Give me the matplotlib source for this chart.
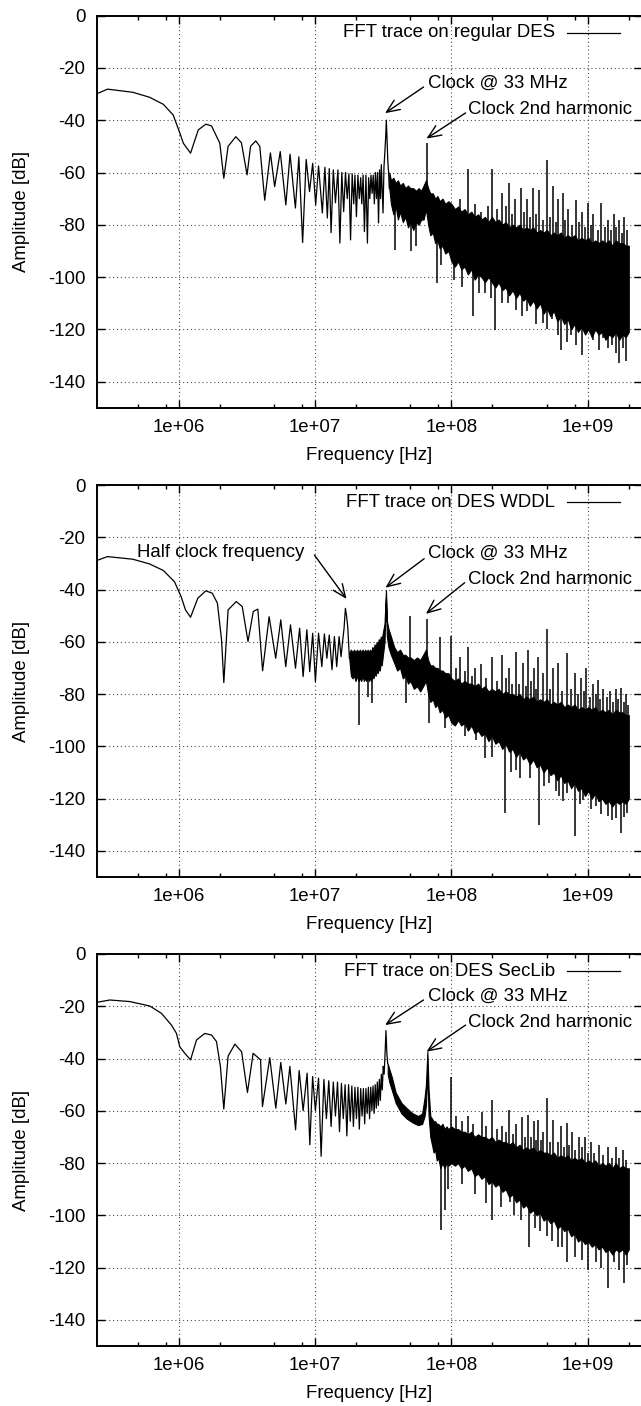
import numpy as np
import matplotlib
matplotlib.use("Agg")
import matplotlib.pyplot as plt
from matplotlib.ticker import FixedLocator, FixedFormatter, NullFormatter

plt.rcParams['font.family'] = ['Liberation Sans', 'DejaVu Sans']
plt.rcParams['font.size'] = 13.4

# x ticks / y ticks
xticks = [1e6, 1e7, 1e8, 1e9]
xtick_labels = ['1e+06', '1e+07', '1e+08', '1e+09']
yticks = [0, -20, -40, -60, -80, -100, -120, -140]
ytick_labels = ['0', '-20', '-40', '-60', '-80', '-100', '-120', '-140']

# ---------------- regular DES ----------------
# smooth part + sinc lobes: [MHz, dB]
des_lobes = [
    [0.25, -29.9], [0.30, -28.1], [0.46, -29.3], [0.61, -31.2], [0.77, -33.9],
    [0.91, -38.0], [1.02, -45.0], [1.08, -48.8], [1.22, -52.6], [1.39, -43.7],
    [1.58, -41.5], [1.74, -42.2], [2.00, -48.8], [2.14, -62.2], [2.30, -50.0],
    [2.62, -46.3], [2.88, -48.6], [3.17, -60.9], [3.36, -50.0], [3.67, -47.9],
    [3.93, -50.0], [4.27, -70.6], [4.70, -52.5], [5.05, -65.4], [5.55, -52.0],
    [6.10, -72.4], [6.55, -53.0], [7.17, -73.6], [7.60, -54.0], [8.10, -86.8],
    [8.60, -55.0], [9.10, -67.3], [9.60, -56.5], [10.1, -72.4], [10.6, -57.5],
    [11.3, -75.5], [11.8, -58.0], [12.3, -77.4], [12.7, -58.5], [13.1, -83.0],
    [13.6, -59.0], [14.1, -71.6], [14.7, -59.0], [15.2, -87.0], [15.7, -60.0],
    [16.2, -75.0], [16.7, -60.0], [17.2, -70.0], [17.7, -60.5], [18.2, -85.8],
    [18.7, -60.5], [19.2, -72.0], [19.6, -61.0], [20.1, -76.9], [20.6, -61.0],
    [21.1, -70.0], [21.6, -62.0], [22.0, -72.0], [22.5, -61.0], [23.0, -82.6],
    [23.6, -61.0], [24.2, -87.0], [24.7, -62.0], [25.2, -70.0], [25.7, -61.0],
    [26.2, -68.0], [26.7, -61.0], [27.2, -72.0], [27.7, -60.0], [28.2, -70.0],
    [28.7, -60.0], [29.2, -79.3], [29.7, -59.0], [30.2, -70.0], [30.6, -57.0],
    [31.5, -75.5], [32.0, -58.0], [32.5, -52.0], [32.9, -47.0], [33.3, -40.0],
    [33.7, -47.0], [34.1, -55.0], [34.6, -60.0], [35.0, -66.0],
]
# dense noisy part: [MHz, upper, lower]
des_band = [
    [35, -60, -66], [36, -63, -72], [37.5, -62, -76], [39, -64, -73], [40.5, -63, -78],
    [42, -65, -75], [44, -64, -79], [46, -66, -77], [48, -65, -81], [50, -66, -79],
    [52.5, -66, -82], [55, -67, -79], [57.5, -66, -80], [60, -67, -78], [62.5, -65, -78],
    [65, -63, -74], [67.5, -66, -80], [70, -68, -84], [73, -68, -83], [76, -70, -87],
    [79, -69, -86], [82, -71, -89], [86, -70, -88], [90, -72, -91], [95, -71, -90],
    [100, -72, -94], [106, -74, -96], [112, -73, -94], [118, -75, -97], [125, -74, -96],
    [132, -76, -99], [140, -75, -97], [148, -77, -101], [157, -76, -99], [166, -78, -100],
    [176, -77, -102], [187, -79, -100], [198, -77, -102], [210, -79, -104], [222, -78, -102],
    [236, -80, -105], [250, -79, -104], [265, -81, -107], [281, -80, -105], [298, -81, -108],
    [316, -80, -106], [335, -82, -109], [355, -81, -108], [376, -82, -111], [398, -81, -109],
    [422, -83, -112], [447, -82, -110], [474, -83, -114], [502, -82, -112], [532, -84, -115],
    [564, -83, -113], [598, -84, -117], [634, -83, -115], [672, -85, -118], [712, -84, -116],
    [755, -85, -120], [800, -84, -118], [848, -86, -121], [900, -85, -119], [955, -86, -122],
    [1010, -85, -120], [1070, -87, -123], [1135, -86, -120], [1200, -87, -122], [1275, -86, -121],
    [1350, -87, -124], [1430, -86, -122], [1515, -88, -123], [1605, -86, -121], [1700, -87, -124],
    [1800, -87, -122], [1900, -88, -123], [2000, -88, -121],
]
des_spikes_up = [
    [66.6, -48.7], [99.5, -73.0], [115, -70.0], [133, -58.7], [150, -72.0], [166, -75.0],
    [185, -73.0], [199, -58.7], [215, -74.0], [233, -68.0], [250, -73.0], [266, -64.1],
    [280, -76.0], [295, -70.0], [324, -66.0], [340, -75.0], [360, -70.0], [380, -77.0],
    [395, -66.0], [420, -76.0], [442, -66.7], [470, -78.0], [500, -55.2], [530, -77.0],
    [560, -65.1], [580, -79.0], [600, -70.0], [655, -67.9], [680, -78.0], [720, -74.0],
    [760, -80.0], [820, -70.5], [860, -79.0], [900, -75.0], [950, -81.0], [1000, -71.7],
    [1050, -80.0], [1100, -76.0], [1180, -82.0], [1260, -71.7], [1330, -81.0], [1400, -78.0],
    [1480, -82.0], [1550, -76.0], [1620, -81.0], [1700, -78.0], [1770, -83.0], [1850, -77.0],
    [1950, -82.0],
]
des_spikes_down = [
    [38.5, -89.6], [50.1, -90.2], [55, -88.3], [79, -102.3], [84, -95.3], [105, -101.0],
    [120, -104.0], [143, -115.0], [160, -106.0], [175, -106.0], [195, -108.0], [210, -120.2],
    [235, -110.0], [260, -110.0], [300, -112.5], [330, -115.0], [360, -113.0], [420, -118.0],
    [470, -117.6], [500, -120.0], [550, -116.0], [600, -122.0], [640, -127.8], [700, -125.0],
    [750, -122.0], [820, -126.0], [910, -129.7], [1000, -120.2], [1100, -124.0], [1200, -128.0],
    [1300, -123.4], [1400, -127.0], [1500, -126.0], [1600, -129.0], [1700, -133.0], [1800, -127.0],
    [1900, -132.3],
]

# ---------------- DES WDDL ----------------
wddl_lobes = [
    [0.25, -28.9], [0.30, -27.4], [0.46, -28.4], [0.61, -30.2], [0.77, -32.7],
    [0.93, -37.0], [1.04, -42.7], [1.12, -47.8], [1.22, -50.6], [1.38, -43.3],
    [1.58, -40.5], [1.76, -41.4], [1.92, -45.2], [2.06, -59.3], [2.14, -75.6],
    [2.30, -47.8], [2.64, -44.6], [2.92, -46.5], [3.22, -59.9], [3.52, -48.4],
    [3.80, -47.5], [4.12, -71.1], [4.60, -50.4], [5.14, -66.3], [5.60, -51.6],
    [6.09, -69.5], [6.60, -53.5], [7.18, -70.1], [7.70, -54.8], [8.17, -73.3],
    [8.70, -55.4], [9.13, -71.4], [9.60, -56.7], [10.05, -75.2], [10.6, -56.7],
    [11.2, -69.5], [11.7, -57.0], [12.2, -66.3], [12.7, -57.4], [13.3, -70.7],
    [13.85, -58.0], [14.4, -69.5], [15.0, -58.0], [15.5, -65.7], [15.9, -60.0],
    [16.3, -55.0], [16.68, -47.2], [17.0, -50.0], [17.35, -54.2], [17.85, -66.3],
]
wddl_band = [
    [17.85, -64, -67], [18.3, -63, -73], [18.8, -64, -74], [19.3, -63, -73], [19.8, -64, -75],
    [20.3, -63, -73], [20.8, -64, -75], [21.3, -63, -74], [21.8, -64, -75], [22.3, -63, -73],
    [22.8, -64, -75], [23.3, -63, -74], [23.8, -64, -75], [24.3, -63, -73], [24.8, -64, -75],
    [25.3, -63, -74], [25.8, -64, -75], [26.3, -62, -73], [26.8, -63, -74], [27.3, -61, -72],
    [27.8, -62, -73], [28.3, -60, -71], [28.8, -61, -72], [29.3, -59, -70], [29.8, -60, -71],
    [30.3, -58, -68], [30.8, -59, -69], [31.3, -57, -66], [32.3, -53, -60], [33.1, -40.2, -43],
    [33.6, -52, -58], [34.5, -55, -62], [36, -58, -65], [38, -62, -68], [40, -64, -71],
    [42, -63, -70], [44, -65, -74], [46, -65, -73], [48, -66, -76], [50, -66, -75],
    [53, -67, -78], [56, -66, -77], [59, -67, -79], [62, -65, -77], [65, -63, -75],
    [67.5, -67, -80], [70, -69, -83], [73, -69, -82], [76, -70, -85], [79, -70, -84],
    [82, -71, -87], [86, -71, -86], [90, -72, -89], [95, -72, -88], [100, -74, -91],
    [106, -75, -92], [112, -74, -90], [118, -76, -92], [125, -75, -91], [132, -76, -94],
    [140, -76, -92], [148, -77, -95], [157, -76, -94], [166, -78, -96], [176, -77, -95],
    [187, -79, -98], [198, -78, -96], [210, -79, -99], [222, -78, -98], [236, -80, -101],
    [250, -79, -99], [265, -80, -102], [281, -80, -101], [298, -81, -104], [316, -80, -102],
    [335, -82, -105], [355, -81, -104], [376, -82, -107], [398, -81, -105], [422, -83, -108],
    [447, -82, -107], [474, -83, -110], [502, -82, -108], [532, -84, -111], [564, -83, -110],
    [598, -84, -113], [634, -83, -111], [672, -85, -114], [712, -84, -113], [755, -85, -116],
    [800, -84, -114], [848, -86, -117], [900, -85, -116], [955, -86, -119], [1010, -85, -117],
    [1070, -86, -120], [1135, -85, -118], [1200, -87, -121], [1275, -86, -120], [1350, -87, -122],
    [1430, -86, -121], [1515, -88, -123], [1605, -86, -121], [1700, -87, -122], [1800, -87, -121],
    [1900, -88, -122], [2000, -88, -120],
]
wddl_spikes_up = [
    [49.8, -50.1], [66.4, -51.4], [82.6, -58.0], [99.5, -57.7], [108, -70.0], [116, -66.0],
    [125, -71.0], [133, -61.8], [142, -73.0], [150, -70.0], [165, -68.5], [180, -74.0],
    [198, -65.7], [215, -75.0], [234, -65.0], [250, -74.0], [265, -70.0], [280, -76.0],
    [298, -63.8], [315, -76.0], [333, -68.0], [350, -77.0], [367, -63.1], [385, -75.0],
    [400, -70.0], [420, -78.0], [435, -65.7], [470, -72.0], [500, -55.2], [530, -78.0],
    [560, -70.0], [610, -68.0], [650, -79.0], [700, -64.4], [750, -78.0], [800, -72.0],
    [850, -80.0], [890, -74.0], [940, -79.0], [970, -70.1], [1030, -81.0], [1090, -76.0],
    [1140, -80.0], [1180, -74.6], [1240, -82.0], [1300, -78.0], [1380, -81.0], [1450, -79.0],
    [1520, -83.0], [1600, -78.0], [1680, -82.0], [1760, -77.7], [1830, -83.0], [1900, -80.0],
    [1980, -84.0],
]
wddl_spikes_down = [
    [20.9, -91.8], [24.3, -81.0], [26.2, -83.5], [46.5, -83.4], [69, -91.0], [89, -92.8],
    [125, -96.0], [152, -97.5], [175, -104.5], [200, -104.0], [249, -125.5], [274, -110.0],
    [300, -109.0], [320, -112.0], [380, -112.0], [442, -130.0], [480, -115.0], [524, -114.0],
    [580, -117.0], [620, -119.0], [660, -121.0], [700, -118.0], [800, -134.5], [880, -122.0],
    [919, -120.5], [1050, -124.0], [1150, -123.0], [1250, -126.0], [1400, -126.8], [1500, -128.0],
    [1620, -127.5], [1760, -133.2], [1850, -127.0], [1950, -125.5],
]

# ---------------- DES SecLib ----------------
seclib_lobes = [
    [0.25, -18.5], [0.312, -17.6], [0.437, -18.2], [0.613, -19.9], [0.746, -22.7],
    [0.884, -27.2], [0.962, -30.4], [1.017, -35.5], [1.107, -38.0], [1.22, -40.5],
    [1.35, -32.9], [1.55, -30.4], [1.74, -31.0], [1.89, -33.5], [2.02, -43.0],
    [2.14, -59.3], [2.30, -39.1], [2.58, -34.5], [2.89, -37.4], [3.19, -53.0],
    [3.51, -38.0], [3.98, -40.5], [4.11, -58.4], [4.65, -39.7], [5.15, -59.0],
    [5.60, -41.5], [6.10, -57.4], [6.53, -43.0], [7.19, -67.3], [7.64, -44.6],
    [8.17, -59.9], [8.74, -45.6], [9.15, -73.0], [9.59, -46.9], [10.05, -59.9],
    [10.6, -47.5], [11.07, -77.4], [11.6, -48.0], [12.1, -63.0], [12.6, -48.5],
    [13.1, -66.0], [13.6, -49.0], [14.1, -62.0], [14.6, -49.0], [15.1, -68.0],
    [15.6, -49.5], [16.1, -63.0], [16.6, -50.0], [17.1, -69.6], [17.6, -50.0],
    [18.1, -64.0], [18.6, -50.5], [19.1, -66.0], [19.6, -51.0], [20.1, -63.0],
    [20.6, -51.0], [21.1, -67.0], [21.6, -51.5], [22.1, -62.0], [22.6, -51.5],
    [23.1, -65.0], [23.6, -51.5], [24.1, -61.0], [24.6, -51.0], [25.1, -63.0],
    [25.6, -51.0], [26.1, -60.0], [26.6, -50.5], [27.1, -61.0], [27.6, -50.0],
    [28.1, -59.0], [28.6, -49.0], [29.1, -58.0], [29.6, -48.0], [30.1, -56.0],
    [30.6, -46.0], [31.1, -52.0], [31.6, -43.0], [32.1, -46.0], [32.6, -38.0],
    [33.1, -29.3], [33.6, -38.0], [34.1, -42.0],
]
seclib_band = [
    [34.1, -42, -46], [35, -44, -49], [36.5, -47, -52], [39, -53, -57], [43, -57, -61],
    [47, -59, -63], [52, -61, -64.5], [57, -62, -65.5], [61, -61, -65], [63.5, -55, -62],
    [65, -50, -58], [66.6, -37.4, -45], [68, -52, -62], [70, -62, -70], [72, -63, -73],
    [74, -64, -76], [76, -64, -75], [78, -65, -79], [80, -65, -78], [83, -66, -82],
    [86, -65, -80], [89, -67, -82], [92, -66, -80], [95, -67, -81], [100, -66, -80],
    [106, -67, -81], [112, -67, -80], [118, -68, -82], [125, -68, -81], [132, -69, -83],
    [140, -68, -82], [148, -70, -85], [157, -69, -84], [166, -70, -86], [176, -70, -85],
    [187, -71, -88], [198, -70, -87], [210, -72, -89], [222, -71, -88], [236, -72, -91],
    [250, -72, -90], [265, -73, -93], [281, -72, -92], [298, -74, -95], [316, -73, -94],
    [335, -75, -97], [355, -74, -96], [376, -75, -99], [398, -74, -98], [422, -76, -100],
    [447, -75, -99], [474, -76, -102], [502, -76, -101], [532, -77, -103], [564, -76, -102],
    [598, -78, -105], [634, -77, -104], [672, -78, -106], [712, -77, -105], [755, -79, -108],
    [800, -78, -107], [848, -79, -110], [900, -78, -109], [955, -80, -111], [1010, -79, -110],
    [1070, -80, -112], [1135, -79, -111], [1200, -81, -113], [1275, -80, -112], [1350, -81, -114],
    [1430, -80, -113], [1515, -82, -115], [1605, -80, -113], [1700, -82, -114], [1800, -81, -113],
    [1900, -82, -115], [2000, -82, -113],
]
seclib_spikes_up = [
    [99.5, -47.2], [108, -62.0], [120, -64.0], [133, -62.0], [145, -65.0], [167, -60.3],
    [180, -66.0], [200, -55.8], [215, -67.0], [233, -66.0], [250, -68.0], [266, -59.7],
    [285, -69.0], [300, -65.0], [327, -62.2], [345, -70.0], [366, -61.6], [385, -70.0],
    [400, -64.0], [420, -71.0], [433, -63.5], [455, -71.0], [470, -68.0], [500, -55.2],
    [530, -72.0], [560, -63.5], [600, -72.0], [633, -66.0], [670, -74.0], [700, -64.7],
    [730, -73.0], [760, -68.0], [810, -75.0], [866, -69.9], [900, -74.0], [950, -70.0],
    [1000, -76.0], [1050, -72.0], [1120, -76.0], [1200, -73.0], [1300, -77.0], [1400, -74.0],
    [1500, -78.0], [1600, -74.0], [1700, -78.0], [1800, -75.0], [1900, -79.0],
]
seclib_spikes_down = [
    [84, -105.5], [89, -98.0], [95, -90.0], [120, -88.0], [150, -92.0], [180, -95.4],
    [197, -101.7], [230, -97.0], [270, -95.0], [290, -100.0], [325, -101.7], [373, -112.0],
    [410, -105.0], [450, -106.0], [500, -108.0], [550, -110.0], [600, -112.0], [650, -112.0],
    [700, -118.0], [800, -116.0], [900, -117.0], [1000, -120.8], [1150, -118.0], [1250, -120.0],
    [1400, -127.8], [1550, -118.0], [1700, -121.0], [1840, -126.0], [1950, -119.0],
]

legend_labels = ['FFT trace on regular DES', 'FFT trace on DES WDDL', 'FFT trace on DES SecLib']

# annotations: text, text pos (Hz, dB), arrow tail, arrow head
notes = [
    [('Clock @ 33 MHz', (6.7e7, -25.9), (6.24e7, -27.3), (3.26e7, -37.3)),
     ('Clock 2nd harmonic', (1.317e8, -35.8), (1.27e8, -37.2), (6.56e7, -47.0))],
    [('Half clock frequency', (4.92e5, -26.0), (9.88e6, -26.8), (1.70e7, -43.6)),
     ('Clock @ 33 MHz', (6.7e7, -26.1), (6.31e7, -28.2), (3.28e7, -39.3)),
     ('Clock 2nd harmonic', (1.317e8, -36.0), (1.25e8, -37.4), (6.5e7, -49.3))],
    [('Clock @ 33 MHz', (6.7e7, -16.3), (6.24e7, -17.6), (3.26e7, -27.2)),
     ('Clock 2nd harmonic', (1.317e8, -26.3), (1.27e8, -27.2), (6.56e7, -37.4))],
]

panels = [
    (des_lobes, des_band, des_spikes_up, des_spikes_down),
    (wddl_lobes, wddl_band, wddl_spikes_up, wddl_spikes_down),
    (seclib_lobes, seclib_band, seclib_spikes_up, seclib_spikes_down),
]

W, H = 641, 1406
fig = plt.figure(figsize=(W / 100, H / 100), dpi=100)
ax_left = 96.7 / W
ax_w = (642 - 96.7) / W
ax_h = 392 / H
tops = [15.7, 485, 954]

for i, (lobes, band, up, dn) in enumerate(panels):
    ax = fig.add_axes([ax_left, 1 - (tops[i] + 392) / H, ax_w, ax_h])
    lobes = np.array(lobes)
    band = np.array(band)
    up = np.array(up)
    dn = np.array(dn)

    ax.plot(lobes[:, 0] * 1e6, lobes[:, 1], color='k', lw=0.9)
    bf = band[:, 0] * 1e6
    ax.fill_between(bf, band[:, 2], band[:, 1], facecolor='k', edgecolor='k', lw=0.8)
    mid = (band[:, 1] + band[:, 2]) / 2
    up_base = np.interp(np.log10(up[:, 0] * 1e6), np.log10(bf), mid)
    dn_base = np.interp(np.log10(dn[:, 0] * 1e6), np.log10(bf), mid)
    ax.vlines(up[:, 0] * 1e6, up_base, up[:, 1], color='k', lw=1.1)
    ax.vlines(dn[:, 0] * 1e6, dn_base, dn[:, 1], color='k', lw=1.1)

    ax.set_xscale('log')
    ax.set_xlim(2.5e5, 2.5e9)
    ax.set_ylim(-150, 0)
    ax.xaxis.set_major_locator(FixedLocator(xticks))
    ax.xaxis.set_major_formatter(FixedFormatter(xtick_labels))
    minors = [m * 10.0 ** e for e in range(5, 10) for m in (2, 5, 8)]
    ax.xaxis.set_minor_locator(FixedLocator(minors))
    ax.xaxis.set_minor_formatter(NullFormatter())
    ax.yaxis.set_major_locator(FixedLocator(yticks))
    ax.yaxis.set_major_formatter(FixedFormatter(ytick_labels))

    ax.grid(True, which='major', color='0.3', ls=(0, (1, 2.5)), lw=0.8)
    ax.set_axisbelow(True)
    ax.tick_params(which='both', direction='in', top=True, right=True, width=1.0)
    ax.tick_params(which='major', length=6)
    ax.tick_params(which='minor', length=3)
    ax.tick_params(axis='x', pad=8)
    ax.tick_params(axis='y', pad=8)
    for s in ax.spines.values():
        s.set_linewidth(1.4)

    ax.set_xlabel('Frequency [Hz]')
    ax.set_ylabel('Amplitude [dB]')
    ax.xaxis.set_label_coords(0.5, -0.1)
    ax.yaxis.set_label_coords(-0.123, 0.5)

    # key
    ax.text(0.8405, 0.956, legend_labels[i], transform=ax.transAxes, ha='right', va='center')
    ax.plot([0.8624, 0.9596], [0.956, 0.956], transform=ax.transAxes, color='k', lw=0.9)

    for txt, tpos, tail, head in notes[i]:
        ax.text(tpos[0], tpos[1], txt, ha='left', va='center')
        ax.annotate('', xy=head, xytext=tail,
                    arrowprops=dict(arrowstyle='->,head_length=0.7,head_width=0.3',
                                    color='k', lw=1.0, shrinkA=0, shrinkB=0))

fig.savefig('out.png', dpi=100)
